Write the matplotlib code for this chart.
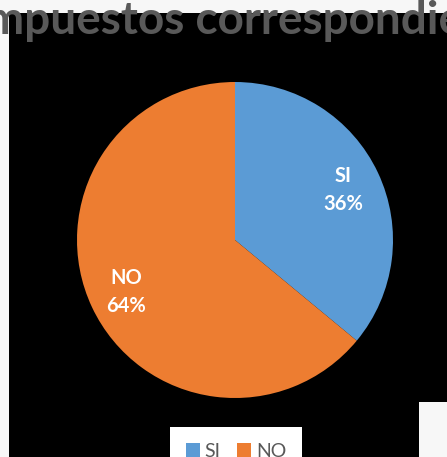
import matplotlib.pyplot as plt
from matplotlib.patches import Rectangle

labels = ['SI', 'NO']
values = [36, 64]
colors = ['#5B9BD5', '#ED7D31']
title = 'mpuestos correspondie'

W, H = 447, 457
fig = plt.figure(figsize=(W / 100., H / 100.), dpi=100, facecolor='#f7f7f7')

# black chart area
fig.patches.append(Rectangle((9. / W, 0.), 1., 1. - 13. / H, transform=fig.transFigure,
                             facecolor='black', edgecolor='none', zorder=-2))
# light block bottom right
fig.patches.append(Rectangle((419. / W, 0.), 1., (H - 402.) / H, transform=fig.transFigure,
                             facecolor='#f7f7f7', edgecolor='none', zorder=-1))

cx, cy, r = 235., 240., 158.
ax = fig.add_axes([(cx - r) / W, (H - cy - r) / H, 2 * r / W, 2 * r / H])
ax.set_zorder(1)
ax.set_facecolor('none')
wedges, _ = ax.pie(values, colors=colors, startangle=90, counterclock=False,
                   wedgeprops=dict(linewidth=0))
ax.set_xlim(-1, 1)
ax.set_ylim(-1, 1)
ax.set_aspect('equal')
ax.axis('off')

# data labels
pos = [(343., 190.), (126., 292.)]
for (px, py), lab, v in zip(pos, labels, values):
    fig.text(px / W, 1 - py / H, '%s\n%d%%' % (lab, round(100. * v / sum(values))),
             ha='center', va='center', color='white', fontsize=14.5, fontweight='bold',
             family='Lato', linespacing=1.5, zorder=3)

fig.text(-14. / W, 1 - 34. / H, title, ha='left', va='baseline', color='#595959',
         fontsize=33, fontweight='bold', family='Lato', zorder=3)

leg = fig.legend(wedges, labels, loc='upper left', bbox_to_anchor=(170. / W, 1 - 427. / H),
                 ncol=2, frameon=True, fancybox=False, handlelength=0.72, handleheight=0.72,
                 handletextpad=0.25, columnspacing=0.85, borderpad=0.8, borderaxespad=0,
                 prop=dict(family='Lato', size=14))
leg.set_zorder(3)
leg.get_frame().set_facecolor('white')
leg.get_frame().set_edgecolor('none')
leg.get_frame().set_alpha(1)
for t in leg.get_texts():
    t.set_color('#595959')

fig.savefig('out.png', dpi=100, facecolor=fig.get_facecolor())
